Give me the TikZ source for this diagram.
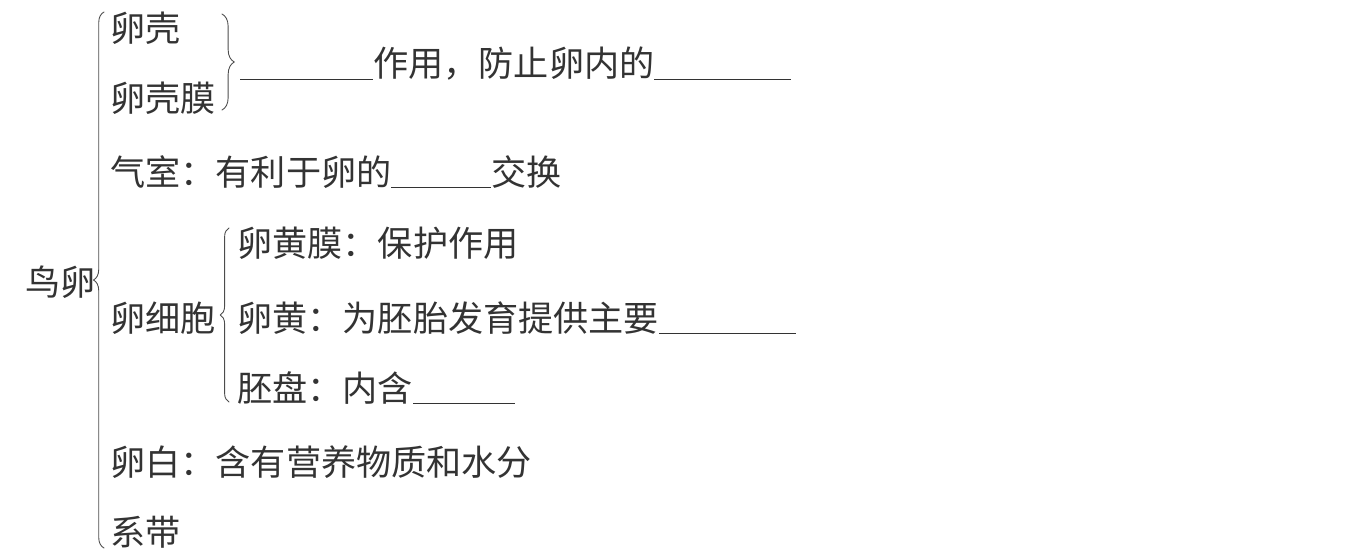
\documentclass[tikz,border=0pt]{standalone}
\usepackage{fontspec}
\setmainfont{Noto Sans CJK SC}
\usetikzlibrary{decorations.pathreplacing}
\newcommand{\kong}[1]{\underline{\hspace{#1}}}
\begin{document}
\begin{tikzpicture}[x=0.02cm, y=-0.02cm, line join=round, line cap=round,
	font=\fontsize{20pt}{24pt}\selectfont, every node/.style={inner sep=0pt, anchor=west, text=black!80},
	kuohao/.style={draw=black!70, line width=0.5pt, decorate, decoration={brace, amplitude=#1}}]
	\useasboundingbox (0,0) rectangle (1350,559);
	% 花括号端点
	\coordinate (L1) at (104,548);
	\coordinate (L2) at (104,12);
	\coordinate (M1) at (229,402);
	\coordinate (M2) at (229,228);
	\coordinate (R1) at (222,14);
	\coordinate (R2) at (222,110);
	
	% 各行文字
	\node (niaoluan) at (25,282) {鸟卵};
	\node (luanke) at (110,28) {卵壳};
	\node (kemo) at (110,98) {卵壳膜};
	\node (zuoyong) at (240,64) {\kong{2.66cm}作用，防止卵内的\kong{2.74cm}};
	\node (qishi) at (110,172) {气室：有利于卵的\kong{2.0cm}交换};
	\node (xibao) at (110,318) {卵细胞};
	\node (huangmo) at (237,243) {卵黄膜：保护作用};
	\node (luanhuang) at (237,318) {卵黄：为胚胎发育提供主要\kong{2.74cm}};
	\node (peipan) at (237,388) {胚盘：内含\kong{2.04cm}};
	\node (luanbai) at (110,462) {卵白：含有营养物质和水分};
	\node (xidai) at (110,532) {系带};
	
	% 画花括号
	\draw[kuohao=6pt] (L1) -- (L2);
	\draw[kuohao=5pt] (M1) -- (M2);
	\draw[kuohao=7pt] (R1) -- (R2);
\end{tikzpicture}
\end{document}
